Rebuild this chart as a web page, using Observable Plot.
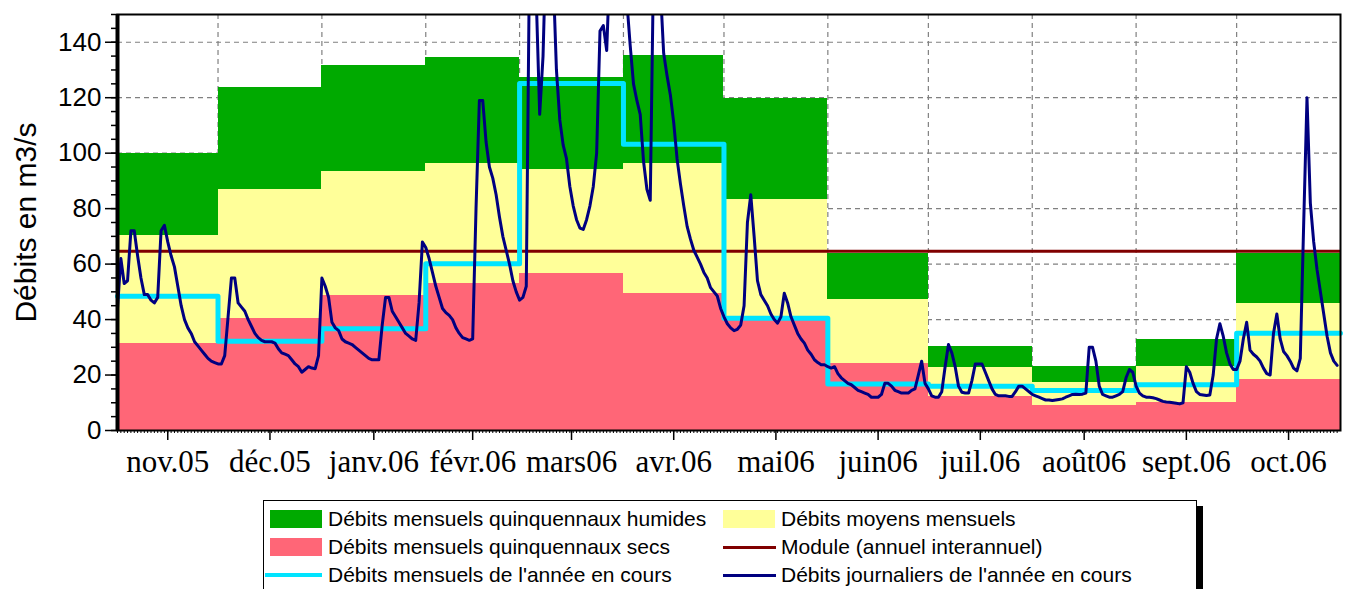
<!DOCTYPE html>
<html>
<head>
<meta charset="utf-8">
<script src="https://cdn.jsdelivr.net/npm/d3@7"></script>
<script src="https://cdn.jsdelivr.net/npm/@observablehq/plot@0.6"></script>
<style>
  body { margin: 0; background: #fff; font-family: "Liberation Sans", Arial, sans-serif; }
  #wrap { position: relative; width: 1351px; height: 589px; overflow: hidden; background: #fff; }
  #legend { position: absolute; left: 263px; top: 500px; width: 932px; height: 110px;
            border: 1px solid #000; box-shadow: 6px 6px 0 #000; background: #fff; }
  .lg-text { position: absolute; font-size: 21px; line-height: 22px; white-space: nowrap; color: #000; }
  .lg-sw { position: absolute; }
</style>
</head>
<body>
<div id="wrap"></div>
<script>
// ---- data ----
const monthLabels = ["nov.05", "déc.05", "janv.06", "févr.06", "mars06", "avr.06", "mai06", "juin06", "juil.06", "août06", "sept.06", "oct.06"];
const wetQuinq = [100, 123.8, 131.7, 134.5, 127.3, 135.3, 119.7, 63.8, 30.4, 23.2, 32.7, 63.8];
const meanMonthly = [70.4, 87, 93.5, 96.2, 94.2, 96.2, 83.2, 47.3, 22.8, 17.4, 23.2, 45.7];
const dryQuinq = [31.3, 40.5, 48.5, 52.9, 56.5, 49.5, 39.5, 24, 12.4, 9.0, 10.2, 18.3];
const currentMonthly = [48.4, 32.2, 36.7, 60.1, 125.1, 103.2, 40.5, 16.8, 16.0, 14.4, 16.5, 35.1];
const moduleValue = 64.6;
const yTicks = [0, 20, 40, 60, 80, 100, 120, 140];
const dailyFlow = [
  // nov 05
  44, 62, 53, 54, 72, 72, 63, 55, 49, 49, 47, 46, 48, 72, 74, 68, 63, 59, 52, 45, 40, 37, 35, 32, 30.5, 29, 27.5, 26, 25, 24.5,
  // déc 05
  24, 24, 27, 41, 55, 55, 46, 44.5, 43, 40, 37.5, 35, 33.5, 32.5, 32, 32, 32, 31.5, 29.5, 28, 27.5, 27, 25.5, 24, 23, 21, 22, 23, 22.5, 22.3, 27,
  // janv 06
  55, 52, 48, 39, 37, 36, 33, 32, 31.5, 31, 30, 29, 28, 27, 26, 25.5, 25.5, 25.5, 38, 48, 48, 43, 41, 39, 37, 35, 34, 33, 32.5, 46, 68,
  // févr 06
  66, 62, 57, 52, 48, 44, 42.5, 41.5, 40, 37, 35, 33.5, 33, 32.5, 33, 80, 119, 119, 104, 95, 91, 85, 77, 70, 65, 60, 54, 50,
  // mars 06
  47, 48, 52, 175, 190, 155, 114, 135, 180, 200, 165, 130, 112, 103, 98, 88, 81, 76, 73, 72.5, 76, 81, 88, 100, 144, 146, 137, 170, 200, 210, 190,
  // avr 06
  180, 155, 139, 125, 119, 114, 97, 87, 83, 170, 200, 160, 136, 128, 121, 111, 98, 89, 81, 73.6, 69, 65, 62.5, 60, 57, 55, 51.5, 50, 48.5, 44,
  // mai 06
  41, 38.5, 37, 36, 36.5, 38, 45, 75, 85, 70, 54, 49, 47, 45, 42, 40, 38.7, 41, 49.5, 46, 41, 38, 35, 33, 31.5, 29, 27.5, 25.5, 24.5, 23.7, 23.7,
  // juin 06
  23, 22.5, 23, 20.5, 19, 18, 17, 16.5, 15.5, 14.5, 14, 13.5, 13, 12, 12, 12, 13, 17, 17, 16, 14.5, 14, 13.5, 13.5, 13.5, 14.5, 15, 20, 25, 17,
  // juil 06
  15, 12.5, 12, 12, 14, 23, 31, 28, 23, 16, 13.8, 13.5, 13.5, 18, 24, 24, 24, 21, 18, 15, 13, 12.5, 12.5, 12.5, 12.3, 12.3, 14, 16, 16, 15, 14,
  // août 06
  13, 12.5, 12, 11.5, 11, 11, 10.8, 11, 11.2, 11.4, 12, 12.5, 13, 13.1, 13, 13.1, 13.5, 30, 30, 25, 16, 13, 12.5, 12, 12, 12.5, 13, 14, 19, 22, 21,
  // sept 06
  16, 13.5, 12.5, 12, 12, 11.8, 11.5, 11, 10.5, 10.3, 10.2, 10, 9.8, 9.6, 10, 23, 21, 17, 14, 13, 12.8, 12.6, 12.8, 20, 33, 38.5, 34, 28, 24, 22,
  // oct 06
  22, 25, 33, 39, 29, 27.5, 26.5, 25, 22.5, 20.5, 20, 35, 42, 33, 28.5, 27, 25, 22.5, 21.5, 26, 74, 120, 82, 68, 58, 50, 42, 34, 28, 25, 23.5
];
const legendLabels = [
  "Débits mensuels quinquennaux humides", "Débits moyens mensuels",
  "Débits mensuels quinquennaux secs", "Module (annuel interannuel)",
  "Débits mensuels de l'année en cours", "Débits journaliers de l'année en cours"
];
const colors = { wet: "#00aa00", mean: "#ffff99", dry: "#ff6677", module: "#800000", cur: "#00e4ff", daily: "#000080" };
const legendKinds = [["rect", colors.wet], ["rect", colors.mean], ["rect", colors.dry], ["line", colors.module], ["line", colors.cur], ["line", colors.daily]];

// ---- derived tables ----
const start = new Date(Date.UTC(2005, 10, 1));
const end = new Date(Date.UTC(2006, 10, 1));
const monthStarts = d3.utcMonth.range(start, end);
const months = monthStarts.map((d, i) => {
  const e = d3.utcMonth.offset(d, 1);
  return { x1: d, x2: e, mid: new Date((+d + +e) / 2), wet: wetQuinq[i], mean: meanMonthly[i], dry: dryQuinq[i], cur: currentMonthly[i], label: monthLabels[i] };
});
const labelByTime = new Map(months.map(m => [+m.mid, m.label]));
const dayDates = d3.utcDay.range(start, end);
const days = dayDates.map((d, i) => ({ date: d, q: dailyFlow[i] }));
const curSteps = [...months.map(m => ({ date: m.x1, v: m.cur })), { date: end, v: currentMonthly[currentMonthly.length - 1] }];

const gridStyle = { stroke: "#808080", strokeOpacity: 1, strokeWidth: 1.2, strokeDasharray: "5,4" };
const rectStyle = { x1: "x1", x2: "x2", y1: 0, shapeRendering: "crispEdges" };

const chart = Plot.plot({
  width: 1351,
  height: 490,
  marginLeft: 117,
  marginRight: 11,
  marginTop: 14,
  marginBottom: 60,
  style: { fontFamily: "'Liberation Sans', Arial, sans-serif", background: "white", color: "black" },
  x: { type: "utc", domain: [start, end] },
  y: { domain: [0, 150] },
  marks: [
    Plot.gridY(yTicks.filter(v => v > 0), gridStyle),
    Plot.gridX(monthStarts.slice(1), gridStyle),
    Plot.rect(months, { ...rectStyle, y2: "wet", fill: colors.wet }),
    Plot.rect(months, { ...rectStyle, y2: "mean", fill: colors.mean }),
    Plot.rect(months, { ...rectStyle, y2: "dry", fill: colors.dry }),
    Plot.ruleY([moduleValue], { stroke: colors.module, strokeWidth: 3 }),
    Plot.line(curSteps, { x: "date", y: "v", curve: "step-after", stroke: colors.cur, strokeWidth: 5 }),
    Plot.line(days, { x: "date", y: "q", stroke: colors.daily, strokeWidth: 3, clip: true }),
    Plot.axisY(d3.range(0, 151, 5), { tickSize: 6, text: null, label: null, strokeWidth: 1.5 }),
    Plot.axisY(yTicks, { tickSize: 12, tickPadding: 4, fontSize: 26, strokeWidth: 1.5, label: null }),
    Plot.axisY([], { tickSize: 0, text: null, fontSize: 30,
      label: "Débits en m3/s", labelAnchor: "center", labelArrow: "none", labelOffset: 103 }),
    Plot.axisX(dayDates, { tickSize: 3, text: null, label: null }),
    Plot.axisX(months.map(m => m.mid), { tickSize: 10, tickPadding: 9, strokeWidth: 1.5, fontSize: 31,
      fontFamily: "'Liberation Serif', 'Times New Roman', serif", tickFormat: d => labelByTime.get(+d), label: null }),
    Plot.frame({ stroke: "black", strokeWidth: 2 }),
    Plot.ruleX([start], { stroke: "black", strokeWidth: 4 })
  ]
});

const wrap = document.getElementById("wrap");
wrap.appendChild(chart);

// ---- legend ----
const legend = document.createElement("div");
legend.id = "legend";
const colX = [[6, 64], [459, 517]];
const rowY = [18, 46, 74];
legendLabels.forEach((lab, i) => {
  const col = i % 2, row = Math.floor(i / 2);
  const [kind, color] = legendKinds[i];
  const sw = document.createElement("div");
  sw.className = "lg-sw";
  if (kind === "rect") {
    Object.assign(sw.style, { left: colX[col][0] + "px", top: (rowY[row] - 9) + "px", width: "52px", height: "18px", background: color });
  } else {
    const lw = color === colors.cur ? 4 : 3;
    Object.assign(sw.style, { left: (col === 0 ? 1 : colX[col][0]) + "px", top: (rowY[row] - lw / 2) + "px",
      width: (col === 0 ? 57 : 53) + "px", height: lw + "px", background: color });
  }
  legend.appendChild(sw);
  const t = document.createElement("div");
  t.className = "lg-text";
  t.textContent = lab;
  Object.assign(t.style, { left: colX[col][1] + "px", top: (rowY[row] - 11) + "px" });
  legend.appendChild(t);
});
wrap.appendChild(legend);
</script>
</body>
</html>
